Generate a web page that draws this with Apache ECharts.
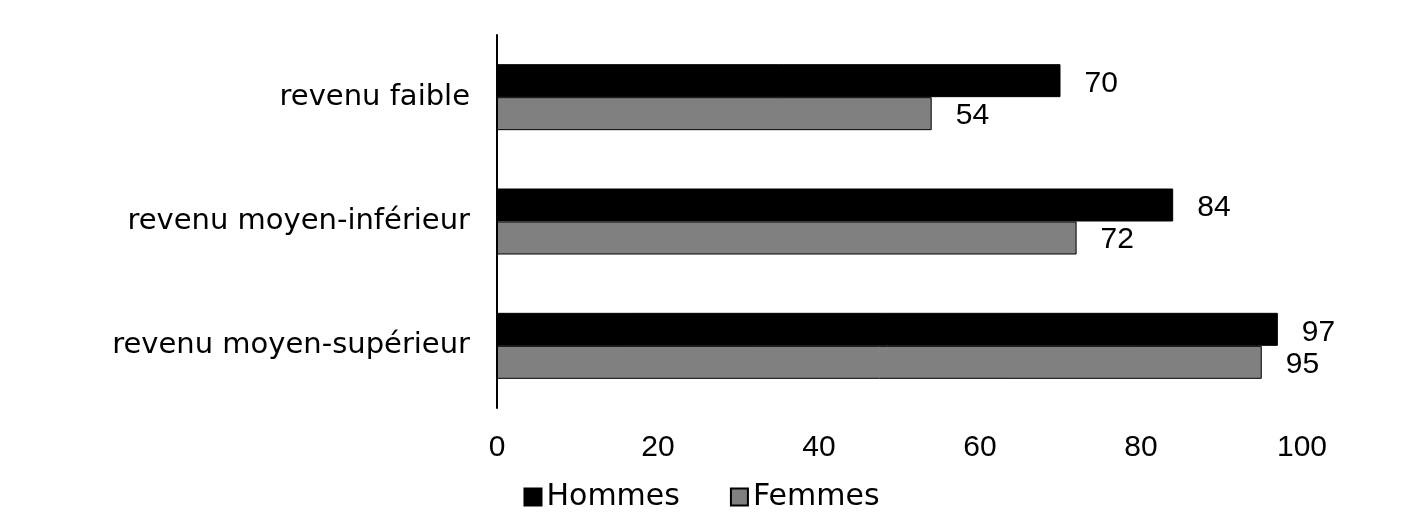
<!DOCTYPE html>
<html>
<head>
<meta charset="utf-8">
<script src="https://cdn.jsdelivr.net/npm/echarts@6/dist/echarts.min.js"></script>
<style>html,body{margin:0;padding:0;background:#fff}#c{width:1403px;height:527px}</style>
</head>
<body>
<div id="c"></div>
<script>
const categories = ['revenu faible', 'revenu moyen-inférieur', 'revenu moyen-supérieur'];
const hommes = [70, 84, 97];
const femmes = [54, 72, 95];
const xTicks = [0, 20, 40, 60, 80, 100];

const chart = echarts.init(document.getElementById('c'), null, {renderer: 'canvas'});
const numFont = 'Liberation Sans, Arial, sans-serif';
const txtFont = 'DejaVu Sans, sans-serif';
chart.setOption({
  animation: false,
  backgroundColor: '#fff',
  grid: {left: 497, right: 101, top: 35, bottom: 119, containLabel: false},
  legend: {
    bottom: 10, left: 'center', itemWidth: 17, itemHeight: 17, itemGap: 50, icon: 'rect',
    textStyle: {fontFamily: txtFont, fontSize: 30, color: '#000'},
    data: ['Hommes', 'Femmes']
  },
  xAxis: {
    type: 'value', min: xTicks[0], max: xTicks[xTicks.length - 1], interval: 20,
    axisLine: {show: false}, axisTick: {show: false}, splitLine: {show: false},
    axisLabel: {margin: 25, fontFamily: numFont, fontSize: 30, color: '#000'}
  },
  yAxis: {
    type: 'category', data: categories, inverse: true,
    axisLine: {show: true, lineStyle: {color: '#000', width: 2}},
    axisTick: {show: false},
    axisLabel: {margin: 27, fontFamily: txtFont, fontSize: 29, color: '#000', padding: [12, 0, 0, 0]}
  },
  series: [
    {
      name: 'Hommes', type: 'bar', data: hommes, barWidth: 33, barGap: '0%',
      itemStyle: {color: '#000', borderColor: '#000', borderWidth: 1},
      label: {show: true, position: 'right', distance: 24, offset: [0, 3], fontFamily: numFont, fontSize: 30, color: '#000'}
    },
    {
      name: 'Femmes', type: 'bar', data: femmes, barWidth: 33, barGap: '0%',
      itemStyle: {color: '#808080', borderColor: '#000', borderWidth: 1},
      label: {show: true, position: 'right', distance: 24, offset: [0, 2], fontFamily: numFont, fontSize: 30, color: '#000'}
    }
  ]
});
</script>
</body>
</html>
